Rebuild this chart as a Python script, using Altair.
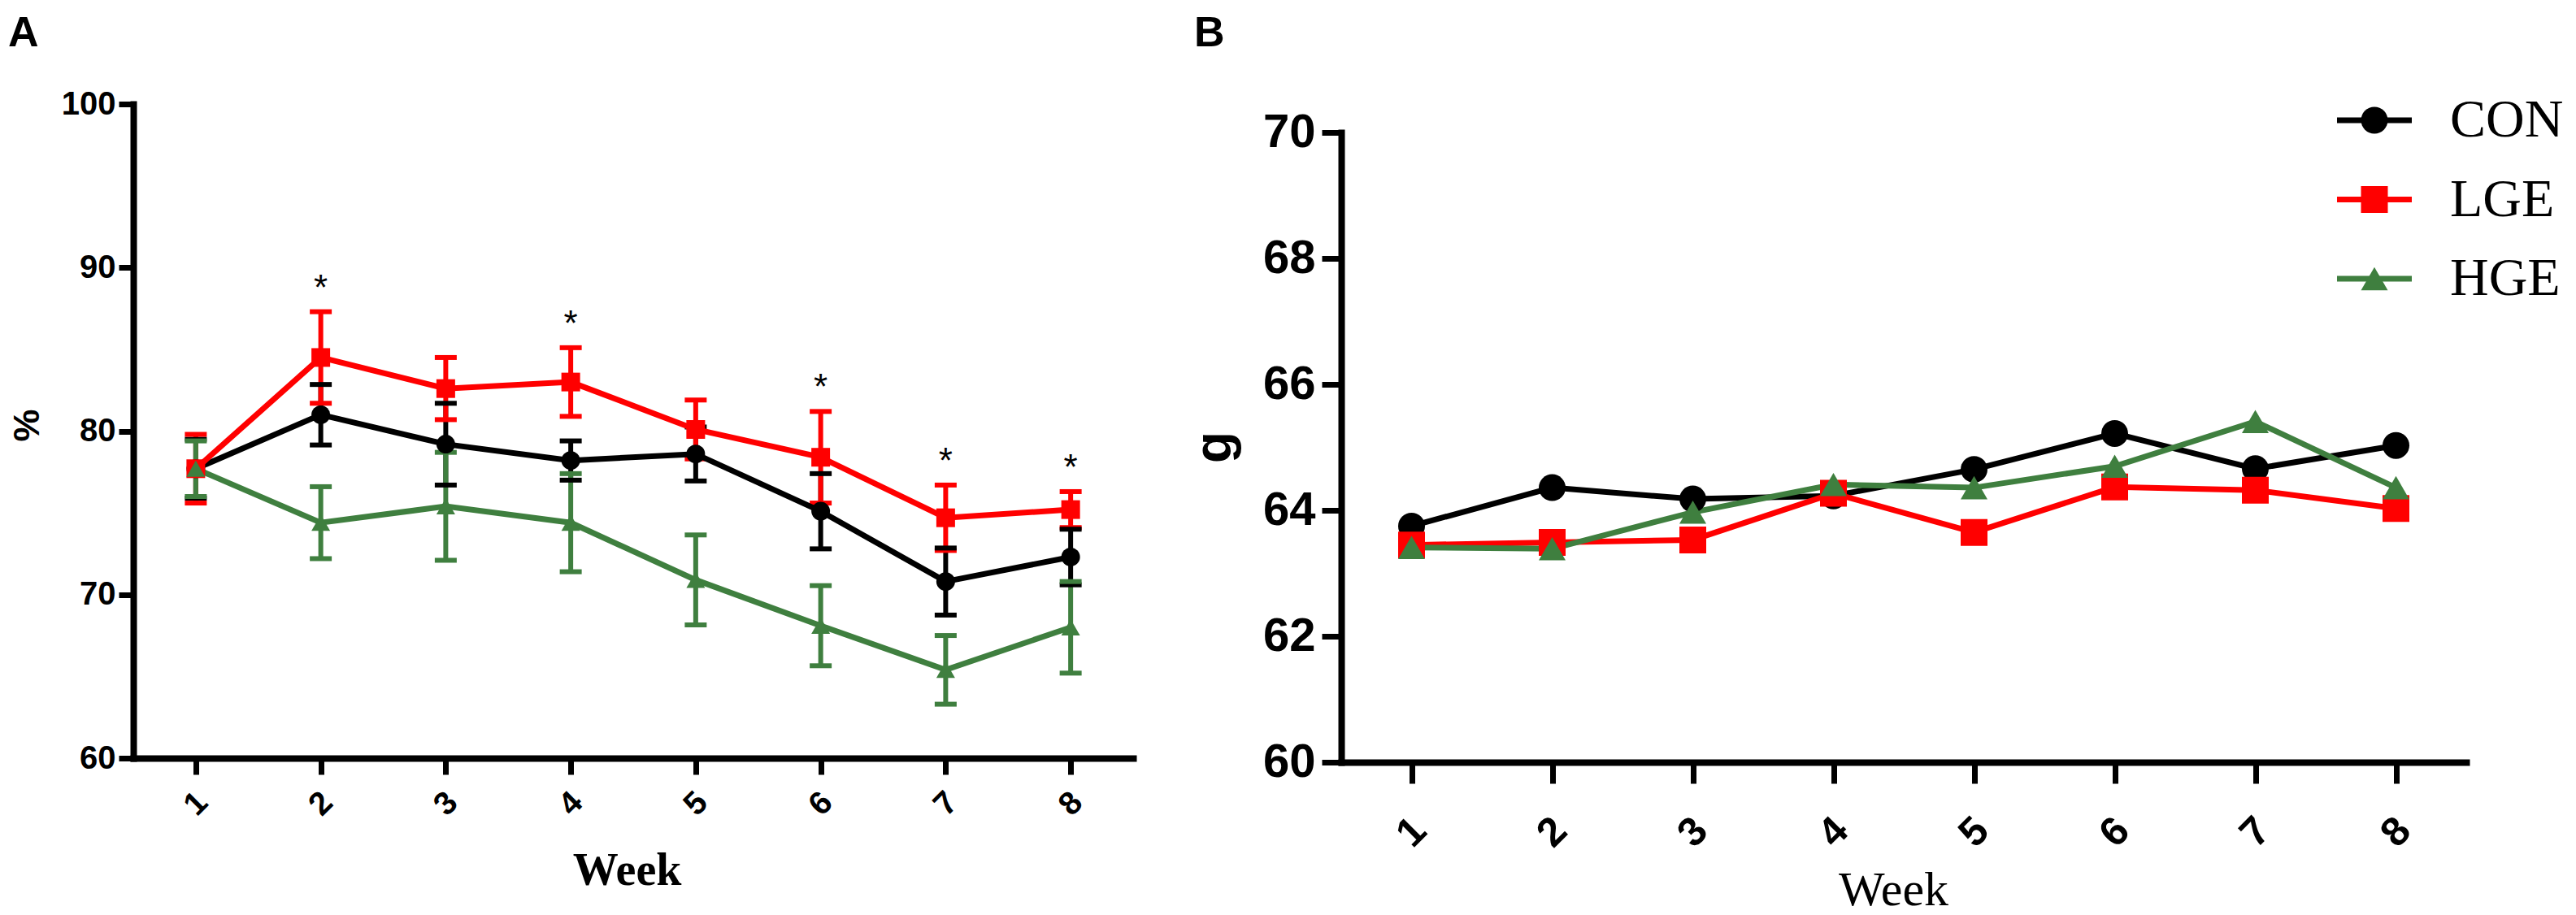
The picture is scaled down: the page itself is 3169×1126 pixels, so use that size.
import altair as alt
import pandas as pd

weeks = [1, 2, 3, 4, 5, 6, 7, 8]
groups = ["CON", "LGE", "HGE"]
colors = ["#000000", "#FF0000", "#3F7F3F"]
shapes = ["circle", "square", "triangle-up"]

# Panel A (%), mean and SEM per week
a_con = [77.7, 81.0, 79.2, 78.2, 78.6, 75.1, 70.8, 72.3]
a_con_se = [1.8, 1.85, 2.5, 1.2, 1.65, 2.3, 2.05, 1.7]
a_lge = [77.7, 84.5, 82.6, 83.0, 80.1, 78.4, 74.7, 75.2]
a_lge_se = [2.1, 2.8, 1.9, 2.1, 1.8, 2.8, 2.0, 1.1]
a_hge = [77.7, 74.4, 75.4, 74.4, 70.9, 68.1, 65.4, 68.0]
a_hge_se = [1.7, 2.2, 3.3, 3.0, 2.75, 2.45, 2.1, 2.8]
sig_weeks = [2, 4, 6, 7, 8]

# Panel B (g)
b_con = [63.75, 64.36, 64.18, 64.23, 64.65, 65.22, 64.66, 65.03]
b_lge = [63.45, 63.49, 63.53, 64.27, 63.65, 64.37, 64.32, 64.03]
b_hge = [63.41, 63.39, 63.97, 64.41, 64.36, 64.70, 65.41, 64.36]

a_ticks = [60, 70, 80, 90, 100]
b_ticks = [60, 62, 64, 66, 68, 70]
panel_labels = ["A", "B"]

SANS = "Liberation Sans"
SERIF = "Liberation Serif"

rows_a = []
for g, m, s in zip(groups, [a_con, a_lge, a_hge], [a_con_se, a_lge_se, a_hge_se]):
    for w, mv, sv in zip(weeks, m, s):
        rows_a.append({"week": w, "group": g, "mean": mv, "se": sv})
df_a = pd.DataFrame(rows_a)

rows_b = []
for g, m in zip(groups, [b_con, b_lge, b_hge]):
    for w, mv in zip(weeks, m):
        rows_b.append({"week": w, "group": g, "value": mv})
df_b = pd.DataFrame(rows_b)

df_sig = pd.DataFrame({
    "week": sig_weeks,
    "top": [a_lge[weeks.index(w)] + a_lge_se[weeks.index(w)] for w in sig_weeks],
    "mark": ["*"] * len(sig_weeks),
})
df_leg = pd.DataFrame({"group": groups})

color = alt.Color("group:N", scale=alt.Scale(domain=groups, range=colors), legend=None)
shape = alt.Shape("group:N", scale=alt.Scale(domain=groups, range=shapes), legend=None)

common_axis = dict(grid=False, domainColor="black", tickColor="black", labelColor="black",
                   titleColor="black", labelFont=SANS, labelFontWeight="bold",
                   labelOverlap=False, labelFlush=False, domainCap="square", tickCap="butt")

# ---------------- Panel A ----------------
xA = alt.X("week:Q", scale=alt.Scale(domain=[0.5, 8.5], nice=False, zero=False),
           axis=alt.Axis(values=weeks, format="d", labelAngle=315, labelAlign="center",
                         labelBaseline="middle", labelFontSize=40, labelPadding=36,
                         tickSize=20, tickWidth=7, domainWidth=8,
                         title="Week", titleFont=SERIF, titleFontWeight="bold", titleFontSize=56,
                         titleX=607, titleY=155, titleAlign="center", titleBaseline="alphabetic",
                         **common_axis))
yA_scale = alt.Scale(domain=[60, 100], nice=False, zero=False)
yA_axis = alt.Axis(values=a_ticks, format="d", labelFontSize=40, labelPadding=4,
                   tickSize=18, tickWidth=7, domainWidth=8,
                   title="%", titleFont=SANS, titleFontWeight="bold", titleFontSize=45,
                   titleAngle=270, titleX=-131, titleY=395, titleAlign="center",
                   titleBaseline="middle", **common_axis)

baseA = alt.Chart(df_a).transform_calculate(lo="datum.mean - datum.se", hi="datum.mean + datum.se")

err_a = baseA.mark_rule(strokeWidth=6).encode(
    x=xA, y=alt.Y("lo:Q", scale=yA_scale, axis=yA_axis), y2="hi:Q", color=color)
cap_lo = baseA.mark_point(shape="stroke", size=729, strokeWidth=6, filled=False, opacity=1).encode(
    x="week:Q", y="lo:Q", color=color)
cap_hi = baseA.mark_point(shape="stroke", size=729, strokeWidth=6, filled=False, opacity=1).encode(
    x="week:Q", y="hi:Q", color=color)
line_a = baseA.mark_line(strokeWidth=7).encode(x="week:Q", y="mean:Q", color=color)
pts_a = baseA.mark_point(filled=True, size=529, opacity=1).encode(
    x="week:Q", y="mean:Q", color=color, shape=shape)
sig_a = alt.Chart(df_sig).mark_text(font=SANS, fontSize=44, color="black", align="center",
                                    baseline="alphabetic", dy=-15).encode(
    x="week:Q", y="top:Q", text="mark:N")
lab_a = alt.Chart(pd.DataFrame({"label": [panel_labels[0]]})).mark_text(
    font=SANS, fontSize=52, fontWeight="bold", color="black", align="left",
    baseline="alphabetic").encode(x=alt.value(-154), y=alt.value(-71), text="label:N")

chartA = alt.layer(err_a, cap_lo, cap_hi, line_a, pts_a, sig_a, lab_a).properties(
    width=1230, height=805)

# ---------------- Panel B ----------------
# plot tops are aligned by the layout; the B scale range starts 35px lower
xB = alt.X("week:Q", scale=alt.Scale(domain=[0.5, 8.5], nice=False, zero=False),
           axis=alt.Axis(values=weeks, format="d", labelAngle=315, labelAlign="center",
                         labelBaseline="middle", labelFontSize=50, labelPadding=60,
                         tickSize=26, tickWidth=7, domainWidth=8,
                         title="Week", titleFont=SERIF, titleFontWeight="normal", titleFontSize=60,
                         titleX=679, titleY=175, titleAlign="center", titleBaseline="alphabetic",
                         **common_axis))
yB = alt.Y("value:Q", scale=alt.Scale(domain=[60, 70], nice=False, zero=False, range=[810, 35]),
           axis=alt.Axis(values=b_ticks, format="d", labelFontSize=58, labelPadding=8,
                         tickSize=24, tickWidth=7, domainWidth=8,
                         title="g", titleFont=SANS, titleFontWeight="bold", titleFontSize=64,
                         titleAngle=270, titleX=-156, titleY=422, titleAlign="center",
                         titleBaseline="middle", **common_axis))

baseB = alt.Chart(df_b)
line_b = baseB.mark_line(strokeWidth=7).encode(x=xB, y=yB, color=color)
pts_b = baseB.mark_point(filled=True, size=1089, opacity=1).encode(
    x="week:Q", y="value:Q", color=color, shape=shape)
lab_b = alt.Chart(pd.DataFrame({"label": [panel_labels[1]]})).mark_text(
    font=SANS, fontSize=52, fontWeight="bold", color="black", align="left",
    baseline="alphabetic").encode(x=alt.value(-181), y=alt.value(-71), text="label:N")
main_b = alt.layer(line_b, pts_b, lab_b)

legY = alt.Y("group:N", scale=alt.Scale(type="point", domain=groups, range=[20, 215], padding=0),
             axis=None)
legB = alt.Chart(df_leg)
leg_line = legB.mark_rule(strokeWidth=7).encode(
    x=alt.value(1225), x2=alt.value(1317), y=legY, color=color)
leg_pt = legB.mark_point(filled=True, size=1089, opacity=1).encode(
    x=alt.value(1271), y=legY, color=color, shape=shape)
leg_txt = legB.mark_text(font=SERIF, fontSize=66, align="left", baseline="middle",
                         color="black").encode(x=alt.value(1364), y=legY, text="group:N")
legend_b = alt.layer(leg_line, leg_pt, leg_txt)

chartB = alt.layer(main_b, legend_b).resolve_scale(y="independent").properties(
    width=1384, height=810)

chart = alt.hconcat(chartA, chartB, spacing=68).properties(
    padding={"left": 2, "top": 7, "right": 0, "bottom": 0},
    background="white",
).configure_view(stroke=None)

chart.save("out.html", embed_options={"renderer": "svg", "actions": False})
